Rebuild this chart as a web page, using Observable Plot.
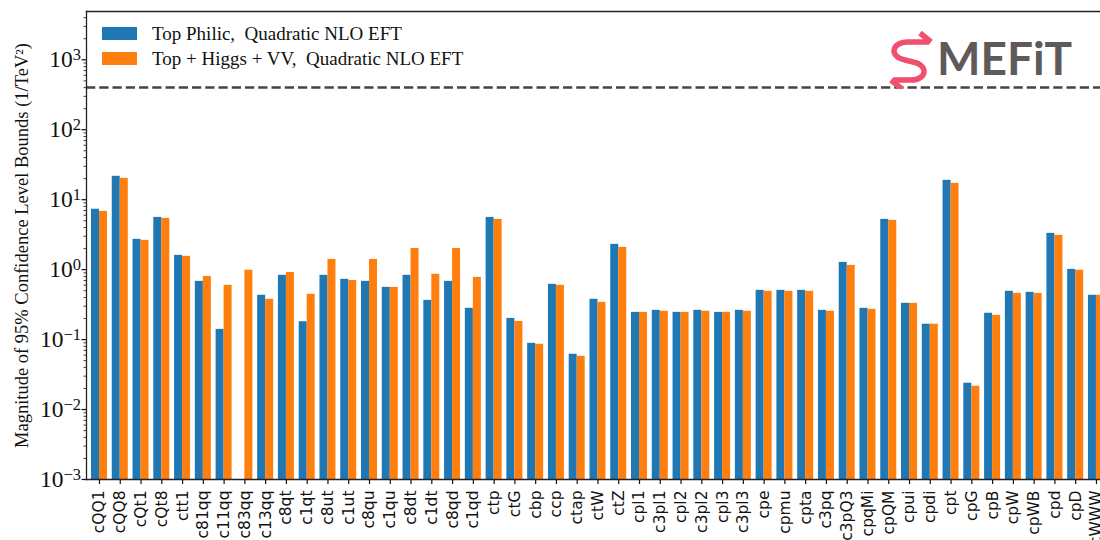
<!DOCTYPE html>
<html><head><meta charset="utf-8">
<script src="https://cdn.jsdelivr.net/npm/d3@7"></script>
<script src="https://cdn.jsdelivr.net/npm/@observablehq/plot@0.6"></script>
<style>
html,body{margin:0;padding:0;background:#fff;overflow:hidden;}
#wrap{position:relative;width:1100px;height:540px;overflow:hidden;}
.legend{position:absolute;left:102px;top:21px;font-family:"Liberation Serif",serif;font-size:19px;color:#111;}
.row{display:flex;align-items:center;height:25px;white-space:pre;}
.sw{width:35px;height:13px;margin-right:15px;}
.logo{position:absolute;left:879px;top:27px;}
</style></head><body><div id="wrap"></div>
<script>
const categories = ["cQQ1","cQQ8","cQt1","cQt8","ctt1","c81qq","c11qq","c83qq","c13qq","c8qt","c1qt","c8ut","c1ut","c8qu","c1qu","c8dt","c1dt","c8qd","c1qd","ctp","ctG","cbp","ccp","ctap","ctW","ctZ","cpl1","c3pl1","cpl2","c3pl2","cpl3","c3pl3","cpe","cpmu","cpta","c3pq","c3pQ3","cpqMi","cpQM","cpui","cpdi","cpt","cpG","cpB","cpW","cpWB","cpd","cpD","cWWW"];
const topPhilic = [7.3,21.6,2.71,5.58,1.6,0.68,0.14,null,0.43,0.83,0.18,0.83,0.727,0.68,0.558,0.83,0.364,0.68,0.28,5.58,0.201,0.0885,0.617,0.0617,0.377,2.3,0.245,0.262,0.245,0.262,0.245,0.262,0.506,0.506,0.506,0.262,1.27,0.28,5.23,0.33,0.166,18.9,0.0238,0.238,0.49,0.474,3.3,1.01,0.43];
const topHiggsVV = [6.8,20.2,2.62,5.4,1.55,0.80,0.597,0.98,0.377,0.91,0.444,1.40,0.70,1.40,0.558,2.01,0.857,2.01,0.776,5.23,0.182,0.0857,0.597,0.0577,0.341,2.08,0.245,0.254,0.245,0.254,0.245,0.254,0.49,0.49,0.49,0.254,1.15,0.271,5.06,0.33,0.166,17.1,0.0215,0.222,0.458,0.458,3.09,0.98,0.43];
const seriesNames = ["Top Philic,  Quadratic NLO EFT", "Top + Higgs + VV,  Quadratic NLO EFT"];
const seriesColors = ["#1f77b4", "#ff7f0e"];
const dashedBound = [400];
const yMajorTicks = [1e-3,1e-2,1e-1,1e0,1e1,1e2,1e3];
const yMinorTicks = [];
for (const d of [1e-3,1e-2,1e-1,1e0,1e1,1e2,1e3]) for (let k = 2; k <= 9; k++) if (d*k < 4900) yMinorTicks.push(d*k);
const yLabel = "Magnitude of 95% Confidence Level Bounds (1/TeV²)";
const yDomain = [1e-3, 4900];

const blue = categories.map((c,i)=>({cat:c, v:topPhilic[i]})).filter(d=>d.v!=null);
const orange = categories.map((c,i)=>({cat:c, v:topHiggsVV[i]})).filter(d=>d.v!=null);

const step = 20.77, barW = 8;
const half = step/2;
const serif = "Liberation Serif";

const chart = Plot.plot({
  width: 1100, height: 540,
  marginLeft: 86, marginTop: 11, marginBottom: 61, marginRight: 0,
  style: {background: "#fff", color: "#111", overflow: "hidden"},
  x: {domain: categories, range: [98.99 - half, 98.99 + 48*step + half], padding: 0, round: false},
  y: {type: "log", domain: yDomain},
  marks: [
    Plot.barY(blue, {x: "cat", y1: () => yDomain[0], y2: "v", fill: seriesColors[0], insetLeft: half - barW, insetRight: half}),
    Plot.barY(orange, {x: "cat", y1: () => yDomain[0], y2: "v", fill: seriesColors[1], insetLeft: half, insetRight: half - barW}),
    Plot.ruleY(dashedBound, {stroke: "#444", strokeWidth: 2.5, strokeDasharray: "9.25,4"}),
    Plot.axisX({tickSize: 5, tickRotate: -90, tickPadding: 6, fontSize: 15.5, fontFamily: "DejaVu Sans", label: null, strokeWidth: 1.2}),
    Plot.axisY({ticks: yMinorTicks, tickSize: 2.5, tickFormat: () => "", label: null, strokeWidth: 0.8}),
    Plot.axisY({ticks: yMajorTicks, tickSize: 4.5, tickPadding: 1, tickFormat: d => "10^" + Math.round(Math.log10(d)), fontSize: 23.5, fontFamily: serif, label: null, strokeWidth: 1.2}),
    Plot.frame({anchor: "left", stroke: "#222", strokeWidth: 1.3}),
    Plot.frame({anchor: "bottom", stroke: "#222", strokeWidth: 1.3}),
    Plot.frame({anchor: "top", stroke: "#222", strokeWidth: 1.3}),
    Plot.text([yLabel], {frameAnchor: "left", textAnchor: "middle", lineAnchor: "middle", rotate: -90, dx: -64, fontSize: 18.5, fontFamily: serif, fill: "#111"})
  ]
});

// format y tick labels as 10 with superscript exponent
chart.querySelectorAll("text").forEach(t => {
  const s = t.textContent;
  if (/^10\^/.test(s)) {
    const e = s.slice(3).replace("-", "\u2212");
    t.textContent = "10";
    const ts = document.createElementNS("http://www.w3.org/2000/svg", "tspan");
    ts.setAttribute("dy", "-0.45em");
    ts.setAttribute("font-size", "16.5");
    ts.textContent = e;
    t.appendChild(ts);
  }
});

const wrap = document.getElementById("wrap");
wrap.appendChild(chart);

const legend = document.createElement("div");
legend.className = "legend";
seriesNames.forEach((n,i) => {
  const row = document.createElement("div"); row.className = "row";
  const sw = document.createElement("div"); sw.className = "sw"; sw.style.background = seriesColors[i];
  const tx = document.createElement("span"); tx.textContent = n;
  row.appendChild(sw); row.appendChild(tx); legend.appendChild(row);
});
wrap.appendChild(legend);

const logo = document.createElement("div");
logo.className = "logo";
logo.innerHTML = `<svg width="200" height="62" viewBox="0 0 200 62">
  <g fill="none" stroke="#f0506e" stroke-width="5.5" stroke-linecap="butt" stroke-linejoin="round">
    <path d="M50 15 L29 15 C12 15 10 30 26 33 L34 35 C50 38 48 53 32 53 L14 53"/>
    <path d="M41 6 L52 15"/>
    <path d="M23 62 L12 53"/>
  </g>
  <text x="58" y="48" font-family="Lato" font-weight="700" font-size="46" fill="#5e5a5a">MEFiT</text>
</svg>`;
wrap.appendChild(logo);
</script></body></html>
